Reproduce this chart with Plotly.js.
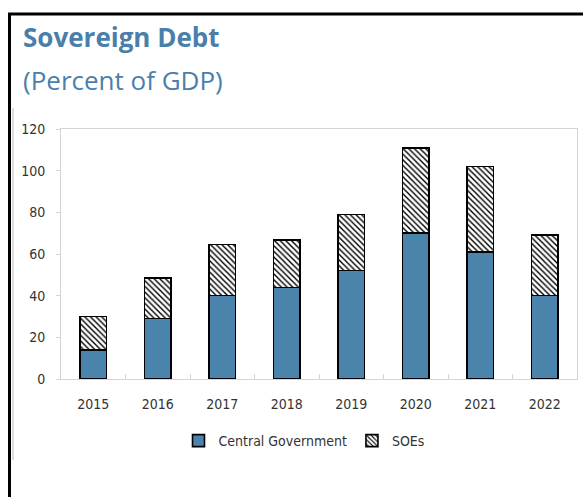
<!DOCTYPE html>
<html>
<head>
<meta charset="utf-8">
<script src="https://cdn.plot.ly/plotly-3.0.1.min.js"></script>
<style>html,body{margin:0;padding:0;background:#fff;}#chart{width:583px;height:497px;}</style>
</head>
<body>
<div id="chart"></div>
<script>
var years = ['2015','2016','2017','2018','2019','2020','2021','2022'];
var centralGovernment = [14, 29, 40, 44, 52, 70, 61, 40];
var soes = [16, 19.5, 24.5, 22.7, 27, 41, 41, 29];
var yTicks = [0, 20, 40, 60, 80, 100, 120];

var tickFont = {family: '"DejaVu Sans Condensed", "Liberation Sans Narrow", sans-serif', size: 14, color: '#333333'};
var blue = '#4a84ad';

var traces = [
  {
    type: 'bar', name: 'Central Government', x: years, y: centralGovernment,
    marker: {color: blue, line: {color: '#000000', width: 1.6}},
    width: 0.41
  },
  {
    type: 'bar', name: 'SOEs', x: years, y: soes,
    marker: {color: '#ffffff', line: {color: '#000000', width: 1.6},
      pattern: {shape: '\\', fgcolor: '#000000', bgcolor: '#ffffff', size: 4, solidity: 0.35}},
    width: 0.41
  }
];

function px(x){ return (x - 61) / 516; }
function py(y){ return (379 - y) / 250; }

var layout = {
  width: 583, height: 497,
  margin: {l: 61, r: 6, t: 129, b: 118},
  paper_bgcolor: '#ffffff', plot_bgcolor: '#ffffff',
  barmode: 'stack',
  showlegend: true,
  legend: {orientation: 'h', x: px(304), xanchor: 'center', y: py(441), yanchor: 'middle',
    font: tickFont, itemwidth: 30, traceorder: 'normal', tracegroupgap: 0},
  xaxis: {
    type: 'category', showgrid: false, zeroline: false,
    showline: true, linecolor: '#d4d4d4', linewidth: 1, mirror: true,
    ticks: 'inside', tickson: 'boundaries', ticklen: 5, tickcolor: '#d4d4d4',
    tickfont: tickFont, ticklabelstandoff: 12
  },
  yaxis: {
    range: [0, 120], tickvals: yTicks, showgrid: false, zeroline: false,
    showline: true, linecolor: '#d4d4d4', linewidth: 1, mirror: true,
    ticks: 'outside', ticklen: 4, tickcolor: '#d4d4d4',
    tickfont: tickFont, ticklabelstandoff: 8
  },
  annotations: [
    {xref: 'paper', yref: 'paper', x: px(21), y: py(37), xanchor: 'left', yanchor: 'middle',
     text: '<b>Sovereign Debt</b>', showarrow: false,
     font: {family: '"Open Sans", "Noto Sans", sans-serif', size: 26, color: '#4a7fab'}},
    {xref: 'paper', yref: 'paper', x: px(21), y: py(80), xanchor: 'left', yanchor: 'middle',
     text: '(Percent of GDP)', showarrow: false,
     font: {family: '"Open Sans", "Noto Sans", sans-serif', size: 26, color: '#4a7fab'}}
  ],
  shapes: [
    {type: 'line', xref: 'paper', yref: 'paper', x0: px(8), x1: px(590), y0: py(14), y1: py(14),
     line: {color: '#000000', width: 3}},
    {type: 'line', xref: 'paper', yref: 'paper', x0: px(9.5), x1: px(9.5), y0: py(13), y1: py(500),
     line: {color: '#000000', width: 3}},
    {type: 'line', xref: 'paper', yref: 'paper', x0: px(13), x1: px(13), y0: py(108), y1: py(460),
     line: {color: '#bdbdbd', width: 1}}
  ]
};

Plotly.newPlot('chart', traces, layout, {displayModeBar: false, staticPlot: true});
</script>
</body>
</html>
